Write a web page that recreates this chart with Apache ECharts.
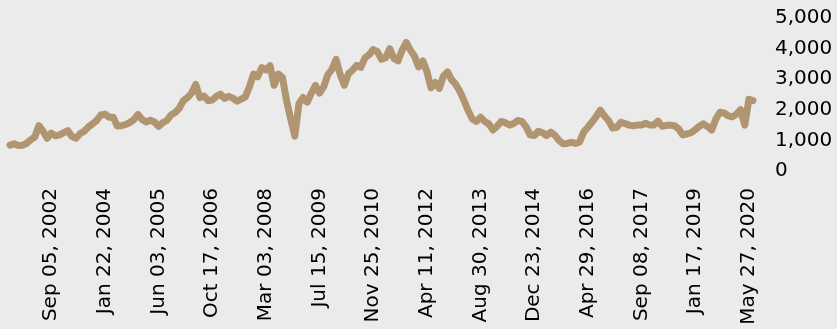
<!DOCTYPE html>
<html>
<head>
<meta charset="utf-8">
<script src="https://cdn.jsdelivr.net/npm/echarts@6/dist/echarts.min.js"></script>
<style>
  html, body { margin: 0; padding: 0; background: #ebebeb; }
  #chart { width: 837px; height: 329px; }
</style>
</head>
<body>
<div id="chart"></div>
<script>
// Date labels shown along the bottom axis
const tickLabels = [
  'Sep 05, 2002', 'Jan 22, 2004', 'Jun 03, 2005', 'Oct 17, 2006',
  'Mar 03, 2008', 'Jul 15, 2009', 'Nov 25, 2010', 'Apr 11, 2012',
  'Aug 30, 2013', 'Dec 23, 2014', 'Apr 29, 2016', 'Sep 08, 2017',
  'Jan 17, 2019', 'May 27, 2020'
];
// Position of the first labelled point and the spacing between labels
const firstTickIndex = 10;
const tickStep = 13;

// Index level over time
const values = [
  844, 890, 830, 840, 900, 1020, 1110, 1480, 1300, 1071,
  1240, 1150, 1180, 1250, 1320, 1130, 1070, 1224, 1300, 1440,
  1540, 1650, 1830, 1860, 1760, 1760, 1470, 1480, 1520, 1580,
  1680, 1850, 1680, 1600, 1660, 1600, 1460, 1580, 1650, 1830,
  1910, 2050, 2300, 2400, 2550, 2830, 2400, 2450, 2300, 2320,
  2440, 2510, 2370, 2440, 2380, 2280, 2350, 2420, 2750, 3170,
  3080, 3380, 3300, 3440, 2800, 3170, 3060, 2300, 1700, 1140,
  2200, 2400, 2250, 2540, 2800, 2550, 2750, 3150, 3320, 3650,
  3150, 2800, 3180, 3300, 3450, 3390, 3700, 3800, 3970, 3900,
  3650, 3700, 4000, 3680, 3600, 3950, 4200, 3950, 3750, 3400,
  3600, 3250, 2720, 2890, 2700, 3100, 3240, 2980, 2830, 2600,
  2300, 1970, 1700, 1620, 1760, 1620, 1540, 1340, 1460, 1620,
  1580, 1500, 1550, 1650, 1620, 1450, 1180, 1160, 1300, 1250,
  1160, 1270, 1170, 1000, 890, 900, 940, 900, 950, 1280,
  1430, 1600, 1780, 1990, 1800, 1650, 1400, 1430, 1590, 1550,
  1500, 1480, 1500, 1500, 1560, 1500, 1500, 1630, 1460, 1490,
  1500, 1480, 1370, 1180, 1210, 1250, 1350, 1460, 1540, 1450,
  1340, 1700, 1920, 1900, 1800, 1770, 1860, 2000, 1500, 2340,
  2300
];

const yTicks = [0, 1000, 2000, 3000, 4000, 5000];

// One category per point; only labelled positions carry a date
const isTick = i => i >= firstTickIndex && (i - firstTickIndex) % tickStep === 0;
const categories = values.map((_, i) =>
  isTick(i) ? tickLabels[(i - firstTickIndex) / tickStep] : '');

const chart = echarts.init(document.getElementById('chart'), null, { renderer: 'canvas' });
chart.setOption({
  backgroundColor: '#ebebeb',
  animation: false,
  textStyle: { fontFamily: 'DejaVu Sans' },
  grid: { left: 10, right: 84, top: 18, bottom: 158, containLabel: false },
  xAxis: {
    type: 'category',
    data: categories,
    boundaryGap: false,
    axisLine: { show: false },
    axisTick: { show: false },
    splitLine: { show: false },
    axisLabel: {
      interval: (i) => isTick(i),
      rotate: 90,
      margin: 17,
      color: '#000',
      fontSize: 20,
      fontFamily: 'DejaVu Sans'
    }
  },
  yAxis: {
    type: 'value',
    position: 'right',
    min: yTicks[0],
    max: yTicks[yTicks.length - 1],
    interval: 1000,
    axisLine: { show: false },
    axisTick: { show: false },
    splitLine: { show: false },
    axisLabel: {
      margin: 22,
      color: '#000',
      fontSize: 20,
      fontFamily: 'DejaVu Sans',
      formatter: v => v.toLocaleString('en-US')
    }
  },
  series: [{
    type: 'line',
    data: values,
    showSymbol: false,
    lineStyle: { color: '#b09570', width: 7, cap: 'round', join: 'round' }
  }]
});
</script>
</body>
</html>
